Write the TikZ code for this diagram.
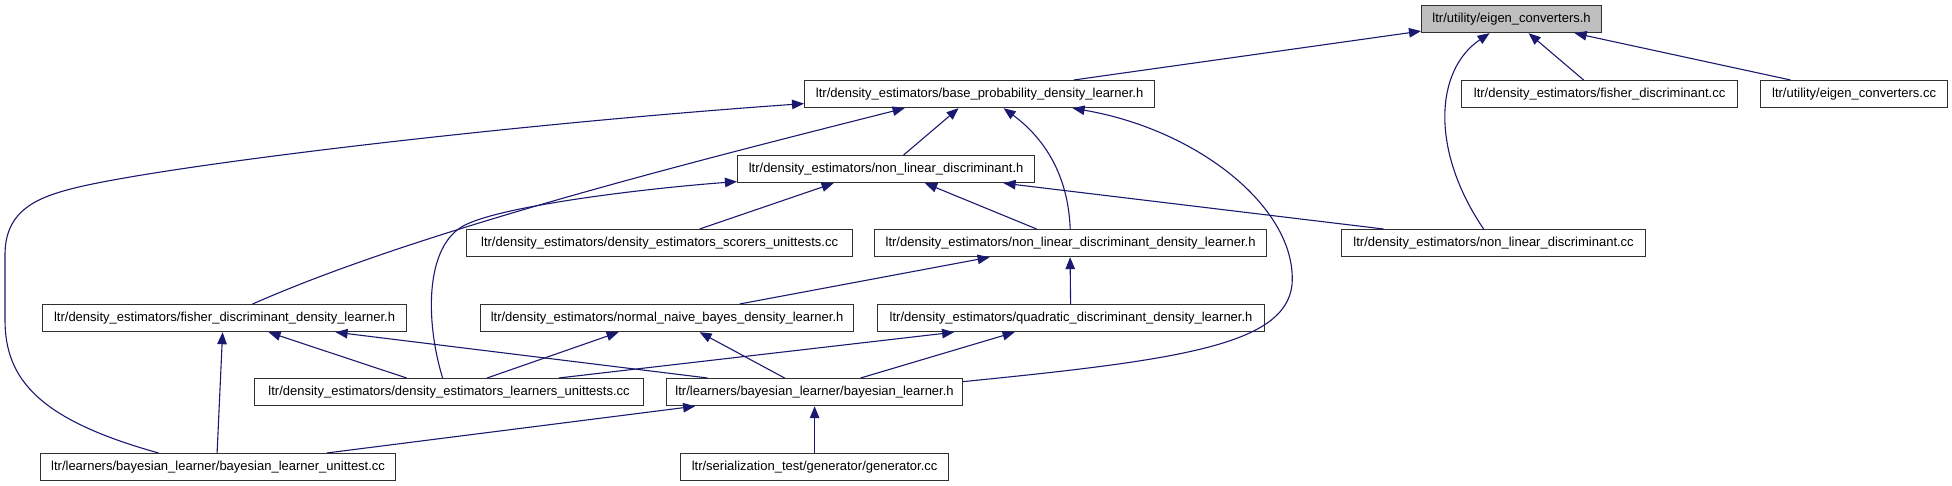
\documentclass[tikz,border=0pt]{standalone}
\usepackage{fontspec}
\setmainfont{Liberation Sans}
\usetikzlibrary{arrows.meta}
\definecolor{edgeblue}{HTML}{191970}
\definecolor{boxline}{HTML}{303030}
\begin{document}
\begin{tikzpicture}[x=1pt,y=-1pt,
  box/.style={draw=boxline, line width=1.2pt, fill=white, inner sep=0pt, minimum height=27pt, anchor=north west, font=\fontsize{13}{15}\selectfont},
  edge/.style={draw=edgeblue, line width=1.1pt, -{Triangle[length=12pt,width=9.5pt]}}]
\useasboundingbox (0,0) rectangle (1952,485);
% nodes
\node[box, fill=black!25, minimum width=180pt] (ech) at (1421,5) {ltr/utility/eigen\_converters.h};
\node[box, minimum width=350pt] (bpdl) at (804,80) {ltr/density\_estimators/base\_probability\_density\_learner.h};
\node[box, minimum width=276pt] (fdcc) at (1461,80) {ltr/density\_estimators/fisher\_discriminant.cc};
\node[box, minimum width=187pt] (eccc) at (1760,80) {ltr/utility/eigen\_converters.cc};
\node[box, minimum width=297pt] (nldh) at (737,155) {ltr/density\_estimators/non\_linear\_discriminant.h};
\node[box, minimum width=386pt] (scorers) at (466,229) {ltr/density\_estimators/density\_estimators\_scorers\_unittests.cc};
\node[box, minimum width=392pt] (nldl) at (874,229) {ltr/density\_estimators/non\_linear\_discriminant\_density\_learner.h};
\node[box, minimum width=304pt] (nldcc) at (1341,229) {ltr/density\_estimators/non\_linear\_discriminant.cc};
\node[box, minimum width=364pt] (fdl) at (42,304) {ltr/density\_estimators/fisher\_discriminant\_density\_learner.h};
\node[box, minimum width=373pt] (nnb) at (480,304) {ltr/density\_estimators/normal\_naive\_bayes\_density\_learner.h};
\node[box, minimum width=387pt] (qdl) at (877,304) {ltr/density\_estimators/quadratic\_discriminant\_density\_learner.h};
\node[box, minimum width=389pt] (learners) at (254,378) {ltr/density\_estimators/density\_estimators\_learners\_unittests.cc};
\node[box, minimum width=296pt] (blh) at (666,378) {ltr/learners/bayesian\_learner/bayesian\_learner.h};
\node[box, minimum width=355pt] (blu) at (40,453) {ltr/learners/bayesian\_learner/bayesian\_learner\_unittest.cc};
\node[box, minimum width=268pt] (gen) at (680,453) {ltr/serialization\_test/generator/generator.cc};
% edges into eigen_converters.h
\draw[edge] ([xshift=94pt]bpdl.north) -- ([yshift=-12pt]ech.west);
\draw[edge] ([xshift=-16pt]fdcc.north) -- ([xshift=17pt]ech.south);
\draw[edge] ([xshift=-63.5pt]eccc.north) -- ([xshift=63pt]ech.south);
\draw[edge] ([xshift=-10pt]nldcc.north) .. controls (1430,150) and (1435,70) .. ([xshift=-22pt]ech.south);
% edges into base_probability_density_learner.h
\draw[edge] ([xshift=17.5pt]nldh.north) -- ([xshift=-21pt]bpdl.south);
\draw[edge] ([xshift=-0.4pt]nldl.north) .. controls (1068,170) and (1040,135) .. ([xshift=24pt]bpdl.south);
\draw[edge] ([yshift=10.5pt]blh.east) .. controls (1180,360) and (1285,345) .. (1292,285) .. controls (1298,210) and (1200,130) .. ([xshift=93pt]bpdl.south);
\draw[edge] ([xshift=28pt]fdl.north) .. controls (420,230) and (700,160) .. ([xshift=-75pt]bpdl.south);
\draw[edge] ([xshift=-59.5pt]blu.north) .. controls (40,420) and (5,380) .. (5,320) -- (5,255) .. controls (5,215) and (30,200) .. (67,190) .. controls (145,168) and (500,125) .. ([yshift=-9.5pt]bpdl.west);
% edges into non_linear_discriminant.h
\draw[edge] ([xshift=-6.5pt]learners.north) .. controls (425,320) and (425,245) .. (465,225) .. controls (505,205) and (650,188) .. ([yshift=-12.5pt]nldh.west);
\draw[edge] ([xshift=40pt]scorers.north) -- ([xshift=-52.5pt]nldh.south);
\draw[edge] ([xshift=-34pt]nldl.north) -- ([xshift=39pt]nldh.south);
\draw[edge] ([xshift=-110pt]nldcc.north) -- ([xshift=117.5pt]nldh.south);
% edges into non_linear_discriminant_density_learner.h
\draw[edge] ([xshift=72.5pt]nnb.north) -- ([xshift=-81pt]nldl.south);
\draw[edge] ([xshift=-0.5pt]qdl.north) -- ([xshift=-0.5pt]nldl.south);
% edges into fisher_discriminant_density_learner.h
\draw[edge] ([xshift=-42.5pt]learners.north) -- ([xshift=44pt]fdl.south);
\draw[edge] ([xshift=-107pt]blh.north) -- ([xshift=111pt]fdl.south);
\draw[edge] ([xshift=-1pt]blu.north) -- ([xshift=-2pt]fdl.south);
% edges into normal_naive_bayes_density_learner.h
\draw[edge] ([xshift=38pt]learners.north) -- ([xshift=-48.5pt]nnb.south);
\draw[edge] ([xshift=-30pt]blh.north) -- ([xshift=32.5pt]nnb.south);
% edges into quadratic_discriminant_density_learner.h
\draw[edge] ([xshift=109.5pt]learners.north) -- ([xshift=-117pt]qdl.south);
\draw[edge] ([xshift=46pt]blh.north) -- ([xshift=-56.5pt]qdl.south);
% edges into bayesian_learner.h
\draw[edge] ([xshift=108.5pt]blu.north) -- ([xshift=-119.5pt]blh.south);
\draw[edge] (gen.north) -- (blh.south);
\end{tikzpicture}
\end{document}
